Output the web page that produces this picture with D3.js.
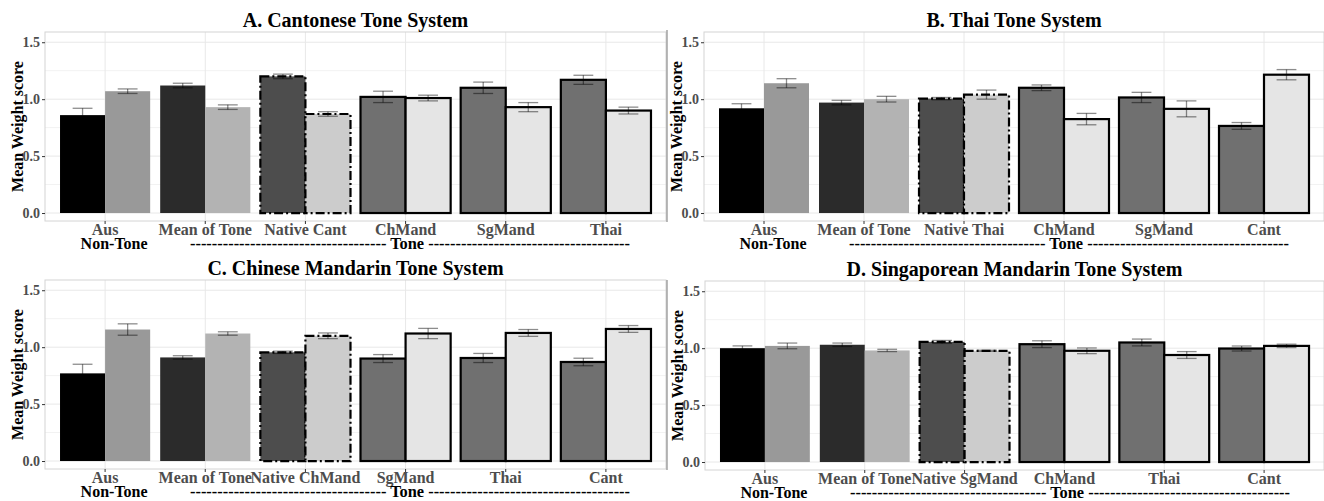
<!DOCTYPE html>
<html>
<head>
<meta charset="utf-8">
<script src="https://cdn.jsdelivr.net/npm/d3@7"></script>
<style>
  body { margin: 0; background: #fff; }
  svg text { font-family: "Liberation Serif", "Times New Roman", serif; font-weight: bold; }
</style>
</head>
<body>
<div id="chart"></div>
<script>
// ---- data ----
const catsA = ["Aus", "Mean of Tone", "Native Cant", "ChMand", "SgMand", "Thai"];
const valA1 = [0.86, 1.12, 1.20, 1.02, 1.10, 1.17];
const errA1 = [0.06, 0.02, 0.02, 0.05, 0.05, 0.04];
const valA2 = [1.07, 0.93, 0.87, 1.01, 0.93, 0.90];
const errA2 = [0.02, 0.02, 0.02, 0.025, 0.04, 0.03];

const catsB = ["Aus", "Mean of Tone", "Native Thai", "ChMand", "SgMand", "Cant"];
const valB1 = [0.92, 0.97, 1.005, 1.10, 1.015, 0.765];
const errB1 = [0.04, 0.02, 0.01, 0.025, 0.045, 0.03];
const valB2 = [1.14, 1.00, 1.04, 0.825, 0.915, 1.215];
const errB2 = [0.04, 0.025, 0.04, 0.05, 0.07, 0.045];

const catsC = ["Aus", "Mean of Tone", "Native ChMand", "SgMand", "Thai", "Cant"];
const valC1 = [0.77, 0.91, 0.955, 0.90, 0.905, 0.87];
const errC1 = [0.08, 0.015, 0.01, 0.035, 0.04, 0.033];
const valC2 = [1.155, 1.12, 1.10, 1.12, 1.125, 1.16];
const errC2 = [0.05, 0.015, 0.025, 0.045, 0.03, 0.03];

const catsD = ["Aus", "Mean of Tone", "Native SgMand", "ChMand", "Thai", "Cant"];
const valD1 = [1.00, 1.03, 1.055, 1.035, 1.05, 0.997];
const errD1 = [0.02, 0.015, 0.013, 0.03, 0.03, 0.022];
const valD2 = [1.02, 0.98, 0.977, 0.977, 0.94, 1.02];
const errD2 = [0.025, 0.01, 0.005, 0.025, 0.03, 0.015];

const yTicks = [0, 0.5, 1, 1.5];
const yMinor = [0.25, 0.75, 1.25];

// fill per category position, first / second bar of each pair
const fill1 = ["#000000", "#2b2b2b", "#4d4d4d", "#707070", "#707070", "#707070"];
const fill2 = ["#999999", "#b3b3b3", "#cccccc", "#e5e5e5", "#e5e5e5", "#e5e5e5"];
const outline = ["none", "none", "dotdash", "solid", "solid", "solid"];

const panels = [
  { title: "A. Cantonese Tone System", cats: catsA, v1: valA1, e1: errA1, v2: valA2, e2: errA2,
    x0: 45, x1: 666, y0: 32, y1: 221 },
  { title: "B. Thai Tone System", cats: catsB, v1: valB1, e1: errB1, v2: valB2, e2: errB2,
    x0: 704, x1: 1324, y0: 32, y1: 221 },
  { title: "C. Chinese Mandarin Tone System", cats: catsC, v1: valC1, e1: errC1, v2: valC2, e2: errC2,
    x0: 45, x1: 666, y0: 280, y1: 469 },
  { title: "D. Singaporean Mandarin Tone System", cats: catsD, v1: valD1, e1: errD1, v2: valD2, e2: errD2,
    x0: 705, x1: 1324, y0: 281, y1: 470 }
];

const W = 1324, H = 501;
const svg = d3.select("#chart").append("svg")
  .attr("width", W).attr("height", H)
  .attr("viewBox", [0, 0, W, H]);

panels.forEach(p => drawPanel(p));

// divider lines between left and right panels
svg.append("line").attr("x1", 667).attr("x2", 667).attr("y1", 30).attr("y2", 222)
  .attr("stroke", "#8c8c8c").attr("stroke-width", 1.2);
svg.append("line").attr("x1", 667).attr("x2", 667).attr("y1", 280).attr("y2", 470)
  .attr("stroke", "#8c8c8c").attr("stroke-width", 1.2);

function drawPanel(p) {
  const g = svg.append("g");

  const x = d3.scaleBand().domain(p.cats).range([p.x0, p.x1])
    .paddingInner(0.1).paddingOuter(0.15);
  const sub = d3.scaleBand().domain([0, 1]).range([0, x.bandwidth()]);
  const y = d3.scaleLinear().domain([-0.07, 1.59]).range([p.y1, p.y0]);

  // grid
  g.append("g").selectAll("line").data(yMinor).join("line")
    .attr("x1", p.x0).attr("x2", p.x1)
    .attr("y1", d => y(d)).attr("y2", d => y(d))
    .attr("stroke", "#f2f2f2").attr("stroke-width", 1);
  g.append("g").selectAll("line").data(yTicks).join("line")
    .attr("x1", p.x0).attr("x2", p.x1)
    .attr("y1", d => y(d)).attr("y2", d => y(d))
    .attr("stroke", "#e8e8e8").attr("stroke-width", 1);
  g.append("g").selectAll("line").data(p.cats).join("line")
    .attr("x1", d => x(d) + x.bandwidth() / 2).attr("x2", d => x(d) + x.bandwidth() / 2)
    .attr("y1", p.y0).attr("y2", p.y1)
    .attr("stroke", "#e8e8e8").attr("stroke-width", 1);

  // panel border
  g.append("rect")
    .attr("x", p.x0).attr("y", p.y0)
    .attr("width", p.x1 - p.x0).attr("height", p.y1 - p.y0)
    .attr("fill", "none").attr("stroke", "#d4d4d4").attr("stroke-width", 1);

  // bars
  const rows = [];
  p.cats.forEach((c, i) => {
    rows.push({ cat: c, s: 0, v: p.v1[i], e: p.e1[i], fill: fill1[i], line: outline[i] });
    rows.push({ cat: c, s: 1, v: p.v2[i], e: p.e2[i], fill: fill2[i], line: outline[i] });
  });

  g.append("g").selectAll("rect").data(rows).join("rect")
    .attr("x", d => x(d.cat) + sub(d.s))
    .attr("y", d => y(d.v))
    .attr("width", sub.bandwidth())
    .attr("height", d => y(0) - y(d.v))
    .attr("fill", d => d.fill)
    .attr("stroke", d => d.line === "none" ? "none" : "#000")
    .attr("stroke-width", 2.2)
    .attr("stroke-dasharray", d => d.line === "dotdash" ? "9,3,2,3" : null);

  // error bars
  const cap = sub.bandwidth() * 0.22;
  const eb = g.append("g").attr("stroke", "#000").attr("stroke-opacity", 0.45)
    .attr("stroke-width", 1.3).attr("fill", "none");
  rows.forEach(d => {
    const cx = x(d.cat) + sub(d.s) + sub.bandwidth() / 2;
    eb.append("line").attr("x1", cx).attr("x2", cx).attr("y1", y(d.v - d.e)).attr("y2", y(d.v + d.e));
    eb.append("line").attr("x1", cx - cap).attr("x2", cx + cap).attr("y1", y(d.v + d.e)).attr("y2", y(d.v + d.e));
    eb.append("line").attr("x1", cx - cap).attr("x2", cx + cap).attr("y1", y(d.v - d.e)).attr("y2", y(d.v - d.e));
  });

  // axes
  const ya = g.append("g").attr("transform", `translate(${p.x0},0)`)
    .call(d3.axisLeft(y).tickValues(yTicks).tickSize(3).tickPadding(2).tickFormat(d3.format(".1f")));
  ya.select(".domain").remove();
  ya.selectAll("line").attr("stroke", "#333");
  ya.selectAll("text").attr("fill", "#4d4d4d").style("font-size", "14px")
    .style("font-family", "'Liberation Serif', serif");

  const xa = g.append("g").attr("transform", `translate(0,${p.y1})`)
    .call(d3.axisBottom(x).tickSize(3).tickPadding(0));
  xa.select(".domain").remove();
  xa.selectAll("line").attr("stroke", "#333");
  xa.selectAll("text").attr("fill", "#4d4d4d").style("font-size", "16px")
    .style("font-family", "'Liberation Serif', serif");

  // title
  g.append("text")
    .attr("x", (p.x0 + p.x1) / 2).attr("y", p.y0 - 5)
    .attr("text-anchor", "middle")
    .style("font-size", "20px").attr("fill", "#000")
    .text(p.title);

  // y axis title
  g.append("text")
    .attr("transform", `translate(${p.x0 - 22},${(p.y0 + p.y1) / 2}) rotate(-90)`)
    .attr("text-anchor", "middle")
    .style("font-size", "16px")
    .text("Mean Weight score");

  // x axis title: Non-Tone / Tone grouping
  const ax = x(p.cats[0]) + x.bandwidth() / 2;
  g.append("text")
    .attr("x", ax + 9).attr("y", p.y1 + 28)
    .attr("text-anchor", "middle").style("font-size", "16px")
    .text("Non-Tone");
  g.append("text")
    .attr("x", p.x0 + 145).attr("y", p.y1 + 28)
    .attr("textLength", 440).attr("lengthAdjust", "spacingAndGlyphs")
    .style("font-size", "16px")
    .text("-".repeat(36) + " Tone " + "-".repeat(37));
}
</script>
</body>
</html>
